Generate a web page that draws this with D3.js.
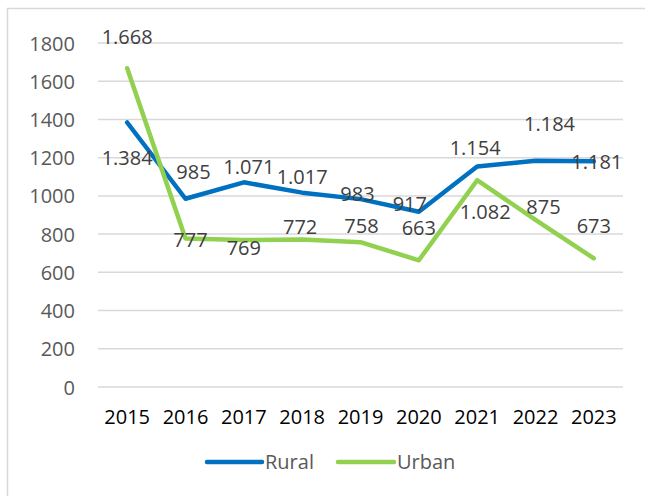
<!DOCTYPE html>
<html>
<head>
<meta charset="utf-8">
<script src="https://cdn.jsdelivr.net/npm/d3@7"></script>
<style>
  html, body { margin: 0; padding: 0; background: #fff; }
  svg { display: block; }
  text { font-family: "Open Sans", "Noto Sans", sans-serif; }
</style>
</head>
<body>
<svg id="chart" width="645" height="496"></svg>
<script>
// Yearly values for the two series
const years = ["2015", "2016", "2017", "2018", "2019", "2020", "2021", "2022", "2023"];
const rural = [1384, 985, 1071, 1017, 983, 917, 1154, 1184, 1181];
const urban = [1668, 777, 769, 772, 758, 663, 1082, 875, 673];
const yTicks = [0, 200, 400, 600, 800, 1000, 1200, 1400, 1600, 1800];

// Placement of each value label relative to its point (dx, dy)
const ruralLabelOffsets = [[0, 35], [8, -27], [5, -15], [0, -16], [-3, -5], [-9, -8], [-2, -18], [14, -37], [3, 1]];
const urbanLabelOffsets = [[0, -31], [5, 1], [0, 8], [-2, -12], [1, -16], [0, -32], [8, 32], [8, -13], [0, -32]];

const series = [
  { name: "Rural", values: rural, color: "#0070C0", offsets: ruralLabelOffsets },
  { name: "Urban", values: urban, color: "#92D050", offsets: urbanLabelOffsets }
];

const svg = d3.select("#chart");

// Chart frame (extends past the visible page on the right and bottom)
svg.append("rect")
  .attr("x", 7.5).attr("y", 8.5)
  .attr("width", 700).attr("height", 600)
  .attr("fill", "none")
  .attr("stroke", "#d9d9d9")
  .attr("stroke-width", 1.5);

const plot = { left: 98, right: 623, top: 43, bottom: 387 };

const x = d3.scaleBand()
  .domain(years)
  .range([plot.left, plot.right]);

const y = d3.scaleLinear()
  .domain([0, 1800])
  .range([plot.bottom, plot.top]);

// Horizontal gridlines
svg.append("g")
  .selectAll("line")
  .data(yTicks)
  .join("line")
  .attr("x1", plot.left).attr("x2", plot.right)
  .attr("y1", d => y(d)).attr("y2", d => y(d))
  .attr("stroke", "#d9d9d9")
  .attr("stroke-width", 1.5);

// Y axis labels
const yAxis = d3.axisLeft(y).tickValues(yTicks).tickSize(0).tickPadding(0).tickFormat(d3.format("d"));
const gy = svg.append("g")
  .attr("transform", `translate(${plot.left - 23},0)`)
  .call(yAxis);
gy.select(".domain").remove();
gy.selectAll("text")
  .attr("fill", "#595959")
  .attr("font-size", 20)
  .attr("dy", "0.35em")
  .style("font-family", "'Open Sans', sans-serif");

// X axis labels
const xAxis = d3.axisBottom(x).tickSize(0).tickPadding(0);
const gx = svg.append("g")
  .attr("transform", `translate(0,${plot.bottom + 23})`)
  .call(xAxis);
gx.select(".domain").remove();
gx.selectAll("text")
  .attr("fill", "#000")
  .attr("font-size", 20)
  .attr("dy", "0.71em")
  .style("font-family", "'Open Sans', sans-serif");

const cx = d => x(d) + x.bandwidth() / 2;
const line = d3.line()
  .x((d, i) => cx(years[i]))
  .y(d => y(d));

// Series lines
svg.append("g")
  .selectAll("path")
  .data(series)
  .join("path")
  .attr("d", s => line(s.values))
  .attr("fill", "none")
  .attr("stroke", s => s.color)
  .attr("stroke-width", 4.5)
  .attr("stroke-linejoin", "round")
  .attr("stroke-linecap", "round");

// Value labels with dot as thousands separator
const fmt = v => d3.format(",")(v).replace(/,/g, ".");
series.forEach(s => {
  svg.append("g")
    .selectAll("text")
    .data(s.values)
    .join("text")
    .attr("x", (d, i) => cx(years[i]) + s.offsets[i][0])
    .attr("y", (d, i) => y(d) + s.offsets[i][1])
    .attr("dy", "0.35em")
    .attr("text-anchor", "middle")
    .attr("font-size", 20)
    .attr("fill", "#404040")
    .text(fmt);
});

// Legend
const legend = svg.append("g");
const legendItems = [
  { s: series[0], x1: 207, x2: 262, tx: 265 },
  { s: series[1], x1: 338, x2: 394, tx: 397 }
];
legendItems.forEach(it => {
  legend.append("line")
    .attr("x1", it.x1).attr("x2", it.x2)
    .attr("y1", 462).attr("y2", 462)
    .attr("stroke", it.s.color)
    .attr("stroke-width", 4.5)
    .attr("stroke-linecap", "round");
  legend.append("text")
    .attr("x", it.tx).attr("y", 462)
    .attr("dy", "0.35em")
    .attr("font-size", 20)
    .attr("fill", "#595959")
    .text(it.s.name);
});
</script>
</body>
</html>
